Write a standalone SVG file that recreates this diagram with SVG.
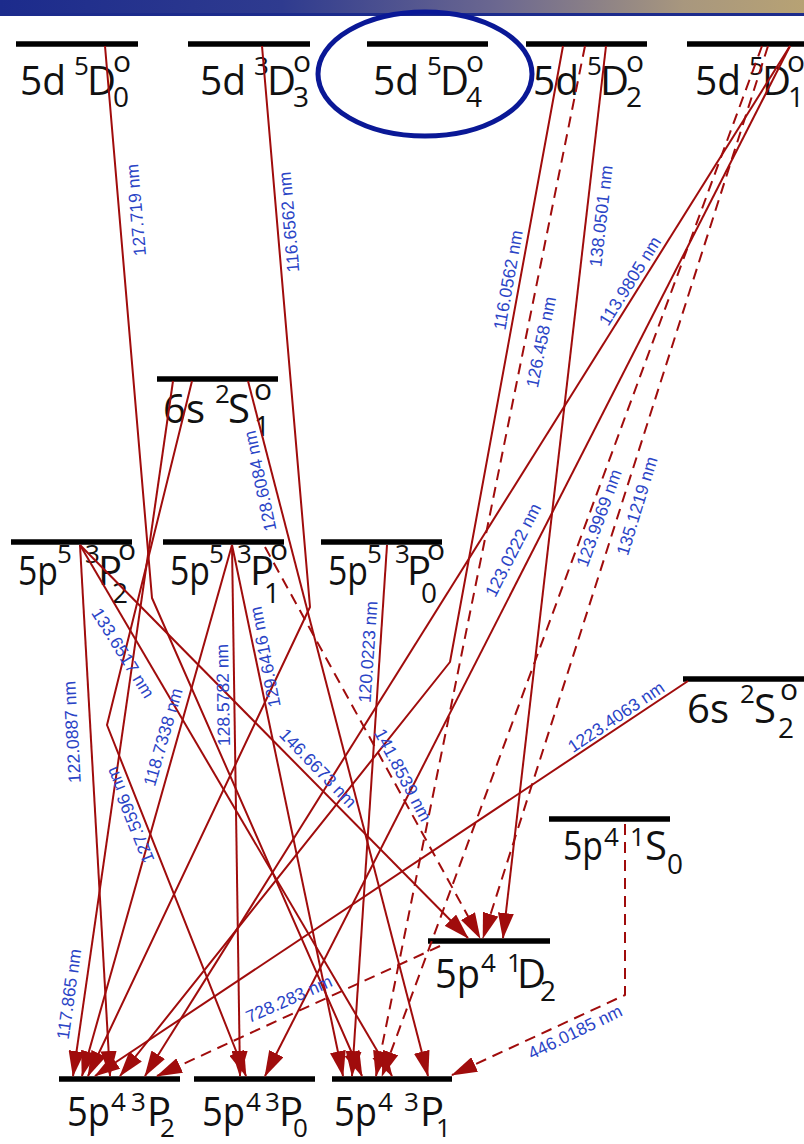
<svg xmlns="http://www.w3.org/2000/svg" width="804" height="1144" viewBox="0 0 804 1144">
<defs>
  <linearGradient id="band" x1="0" y1="0" x2="1" y2="0">
    <stop offset="0" stop-color="#1c2b8c"/>
    <stop offset="0.35" stop-color="#2f3b8f"/>
    <stop offset="0.62" stop-color="#6c6890"/>
    <stop offset="0.85" stop-color="#a8977e"/>
    <stop offset="1" stop-color="#b7a274"/>
  </linearGradient>
  <marker id="ah" viewBox="0 0 26 16" refX="25" refY="8" markerWidth="26" markerHeight="16" markerUnits="userSpaceOnUse" orient="auto">
    <path d="M0,0 L26,8 L0,16 Z" fill="#a00c0c"/>
  </marker>
  <style>
    .bar{stroke:#000;stroke-width:5.5}
    .lv{font-family:"Open Sans","DejaVu Sans",sans-serif;fill:#111}
    .m{font-size:40px}
    .s{font-size:26px}
    .b{font-size:28px}
    .bl{font-size:26px}
    .o{font-size:30px}
    .t{fill:none;stroke:#a00c0c;stroke-width:2;stroke-linejoin:round;marker-end:url(#ah)}
    .d{stroke-dasharray:11 7}
    .w{font-family:"Liberation Sans",Arial,sans-serif;font-size:17.5px;fill:#2a44c6;text-anchor:middle;dominant-baseline:central}
  </style>
</defs>

<rect width="804" height="1144" fill="#fff"/>
<!-- title band -->
<rect width="804" height="16" fill="url(#band)"/>
<rect y="13" width="804" height="3" fill="#1c2b8c"/>

<!-- upper 5d levels -->
<g id="lv-5d-5D0">
  <line class="bar" x1="16" y1="44" x2="138" y2="44"/>
  <text class="lv m" x="20" y="95" textLength="46" lengthAdjust="spacingAndGlyphs">5d</text>
  <text class="lv s" x="74" y="75">5</text>
  <text class="lv m" x="87" y="95">D</text>
  <text class="lv b" x="113" y="107">0</text>
  <text class="lv o" x="113" y="72">o</text>
</g>
<g id="lv-5d-3D3">
  <line class="bar" x1="188" y1="44" x2="310" y2="44"/>
  <text class="lv m" x="200" y="95" textLength="46" lengthAdjust="spacingAndGlyphs">5d</text>
  <text class="lv s" x="254" y="75">3</text>
  <text class="lv m" x="267" y="95">D</text>
  <text class="lv b" x="293" y="107">3</text>
  <text class="lv o" x="293" y="72">o</text>
</g>
<g id="lv-5d-5D4">
  <line class="bar" x1="367" y1="44" x2="488" y2="44"/>
  <text class="lv m" x="373" y="95" textLength="46" lengthAdjust="spacingAndGlyphs">5d</text>
  <text class="lv s" x="427" y="75">5</text>
  <text class="lv m" x="440" y="95">D</text>
  <text class="lv b" x="466" y="107">4</text>
  <text class="lv o" x="466" y="72">o</text>
</g>
<g id="lv-5d-5D2">
  <line class="bar" x1="526" y1="44" x2="647" y2="44"/>
  <text class="lv m" x="533" y="95" textLength="46" lengthAdjust="spacingAndGlyphs">5d</text>
  <text class="lv s" x="587" y="75">5</text>
  <text class="lv m" x="600" y="95">D</text>
  <text class="lv b" x="626" y="107">2</text>
  <text class="lv o" x="626" y="72">o</text>
</g>
<g id="lv-5d-5D1">
  <line class="bar" x1="687" y1="44" x2="804" y2="44"/>
  <text class="lv m" x="695" y="95" textLength="46" lengthAdjust="spacingAndGlyphs">5d</text>
  <text class="lv s" x="749" y="75">5</text>
  <text class="lv m" x="762" y="95">D</text>
  <text class="lv b" x="788" y="107">1</text>
  <text class="lv o" x="787" y="72">o</text>
</g>

<!-- 6s levels -->
<g id="lv-6s-2S1">
  <line class="bar" x1="157" y1="379" x2="278" y2="379"/>
  <text class="lv m" x="163" y="423" textLength="42" lengthAdjust="spacingAndGlyphs">6s</text>
  <text class="lv s" x="215" y="403">2</text>
  <text class="lv m" x="228" y="423">S</text>
  <text class="lv b" x="254" y="436">1</text>
  <text class="lv o" x="254" y="400">o</text>
</g>
<g id="lv-6s-2S2">
  <line class="bar" x1="683" y1="679" x2="804" y2="679"/>
  <text class="lv m" x="687" y="723" textLength="42" lengthAdjust="spacingAndGlyphs">6s</text>
  <text class="lv s" x="740" y="703">2</text>
  <text class="lv m" x="754" y="723">S</text>
  <text class="lv b" x="778" y="738">2</text>
  <text class="lv o" x="780" y="700">o</text>
</g>

<!-- 5p5 levels -->
<g id="lv-5p5-3P2">
  <line class="bar" x1="11" y1="542" x2="132" y2="542"/>
  <text class="lv m" x="18" y="585" textLength="40" lengthAdjust="spacingAndGlyphs">5p</text>
  <text class="lv s" x="57" y="563">5</text>
  <text class="lv s" x="85" y="563">3</text>
  <text class="lv m" x="98" y="585">P</text>
  <text class="lv b" x="112" y="603">2</text>
  <text class="lv o" x="118" y="560">o</text>
</g>
<g id="lv-5p5-3P1">
  <line class="bar" x1="163" y1="542" x2="284" y2="542"/>
  <text class="lv m" x="170" y="585" textLength="40" lengthAdjust="spacingAndGlyphs">5p</text>
  <text class="lv s" x="209" y="563">5</text>
  <text class="lv s" x="237" y="563">3</text>
  <text class="lv m" x="250" y="585">P</text>
  <text class="lv b" x="264" y="603">1</text>
  <text class="lv o" x="270" y="560">o</text>
</g>
<g id="lv-5p5-3P0">
  <line class="bar" x1="321" y1="542" x2="442" y2="542"/>
  <text class="lv m" x="328" y="585" textLength="40" lengthAdjust="spacingAndGlyphs">5p</text>
  <text class="lv s" x="367" y="563">5</text>
  <text class="lv s" x="395" y="563">3</text>
  <text class="lv m" x="407" y="585">P</text>
  <text class="lv b" x="421" y="603">0</text>
  <text class="lv o" x="427" y="560">o</text>
</g>

<!-- 5p4 levels -->
<g id="lv-5p4-1S0">
  <line class="bar" x1="549" y1="819" x2="670" y2="819"/>
  <text class="lv m" x="563" y="860" textLength="40" lengthAdjust="spacingAndGlyphs">5p</text>
  <text class="lv s" x="604" y="846">4</text>
  <text class="lv s" x="630" y="846">1</text>
  <text class="lv m" x="645" y="860">S</text>
  <text class="lv b" x="667" y="874">0</text>
</g>
<g id="lv-5p4-1D2">
  <line class="bar" x1="428" y1="941" x2="550" y2="941"/>
  <text class="lv m" x="435" y="988" textLength="45" lengthAdjust="spacingAndGlyphs">5p</text>
  <text class="lv s" x="481" y="972">4</text>
  <text class="lv s" x="507" y="972">1</text>
  <text class="lv m" x="517" y="988">D</text>
  <text class="lv b" x="540" y="1001">2</text>
</g>
<g id="lv-5p4-3P2">
  <line class="bar" x1="59" y1="1079" x2="180" y2="1079"/>
  <text class="lv m" x="67" y="1126" textLength="43" lengthAdjust="spacingAndGlyphs">5p</text>
  <text class="lv s" x="111" y="1111">4</text>
  <text class="lv s" x="131" y="1111">3</text>
  <text class="lv m" x="147" y="1126">P</text>
  <text class="lv bl" x="160" y="1137">2</text>
</g>
<g id="lv-5p4-3P0">
  <line class="bar" x1="194" y1="1079" x2="315" y2="1079"/>
  <text class="lv m" x="202" y="1126" textLength="43" lengthAdjust="spacingAndGlyphs">5p</text>
  <text class="lv s" x="246" y="1111">4</text>
  <text class="lv s" x="265" y="1111">3</text>
  <text class="lv m" x="279" y="1126">P</text>
  <text class="lv bl" x="293" y="1137">0</text>
</g>
<g id="lv-5p4-3P1">
  <line class="bar" x1="332" y1="1079" x2="452" y2="1079"/>
  <text class="lv m" x="334" y="1126" textLength="43" lengthAdjust="spacingAndGlyphs">5p</text>
  <text class="lv s" x="378" y="1111">4</text>
  <text class="lv s" x="404" y="1111">3</text>
  <text class="lv m" x="420" y="1126">P</text>
  <text class="lv bl" x="436" y="1137">1</text>
</g>

<!-- transitions -->
<g id="transitions">
  <path class="t" d="M105,46 L152,598 L362,1076"/>
  <path class="t" d="M262,46 L310,607 L88,1076"/>
  <path class="t" d="M563,46 L450,662 L120,1076"/>
  <path class="t" d="M606,46 L503,938"/>
  <path class="t" d="M790,46 L145,1076"/>
  <path class="t" d="M790,46 L265,1076"/>
  <path class="t" d="M248,381 L428,1076"/>
  <path class="t" d="M173,381 L73,1076"/>
  <path class="t" d="M192,381 L107,725 L246,1076"/>
  <path class="t" d="M80,545 L110,1076"/>
  <path class="t" d="M80,545 L392,1076"/>
  <path class="t" d="M80,545 L468,938"/>
  <path class="t" d="M232,545 L240,1076"/>
  <path class="t" d="M232,545 L343,1076"/>
  <path class="t" d="M232,545 L82,1076"/>
  <path class="t" d="M387,545 L352,1076"/>
  <path class="t" d="M688,681 L95,1076"/>
  <path class="t d" d="M585,46 L376,1076"/>
  <path class="t d" d="M762,46 L382,1076"/>
  <path class="t d" d="M768,46 L483,938"/>
  <path class="t d" d="M265,547 L480,938"/>
  <path class="t d" d="M440,946 L157,1076"/>
  <path class="t d" d="M625,824 L625,995 L452,1075"/>

  <g id="wavelengths">
    <text class="w" transform="translate(136,210) rotate(-95)">127.719 nm</text>
    <text class="w" transform="translate(289,222) rotate(-95)">116.6562 nm</text>
    <text class="w" transform="translate(508,280) rotate(-80)">116.0562 nm</text>
    <text class="w" transform="translate(541,342) rotate(-78.5)">126.458 nm</text>
    <text class="w" transform="translate(601,216) rotate(-83.5)">138.0501 nm</text>
    <text class="w" transform="translate(630,281) rotate(-58)">113.9805 nm</text>
    <text class="w" transform="translate(513,550) rotate(-63)">123.0222 nm</text>
    <text class="w" transform="translate(599,518) rotate(-70)">123.9969 nm</text>
    <text class="w" transform="translate(637,506) rotate(-73)">135.1219 nm</text>
    <text class="w" transform="translate(260,481) rotate(-102)">128.6084 nm</text>
    <text class="w" transform="translate(72,732) rotate(-93)">122.0887 nm</text>
    <text class="w" transform="translate(123,653) rotate(58)">133.6517 nm</text>
    <text class="w" transform="translate(130,815) rotate(-112)">127.5596 nm</text>
    <text class="w" transform="translate(163,737) rotate(-74)">118.7338 nm</text>
    <text class="w" transform="translate(223,695) rotate(-91)">128.5782 nm</text>
    <text class="w" transform="translate(265,657) rotate(-101)">129.6416 nm</text>
    <text class="w" transform="translate(368,652) rotate(-86)">120.0223 nm</text>
    <text class="w" transform="translate(318,768) rotate(46)">146.6673 nm</text>
    <text class="w" transform="translate(403,775) rotate(62)">141.8539 nm</text>
    <text class="w" transform="translate(616,717) rotate(-34)">1223.4063 nm</text>
    <text class="w" transform="translate(69,994) rotate(-82)">117.865 nm</text>
    <text class="w" transform="translate(289,999) rotate(-24)">728.283 nm</text>
    <text class="w" transform="translate(575,1032) rotate(-26)">446.0185 nm</text>
  </g>
</g>

<!-- highlight ring round the 5D4 level -->
<ellipse cx="425" cy="74" rx="107" ry="62" fill="none" stroke="#0a1896" stroke-width="5"/>
</svg>
